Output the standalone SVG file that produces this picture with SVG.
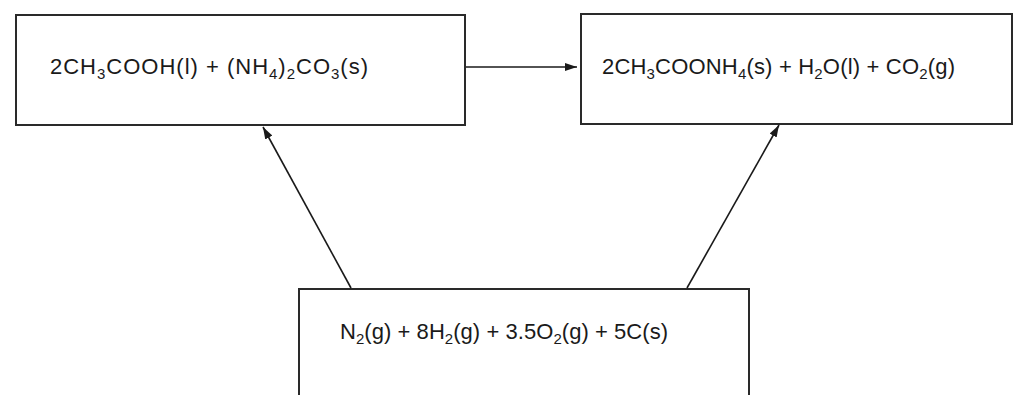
<svg xmlns="http://www.w3.org/2000/svg" width="1015" height="395" viewBox="0 0 1015 395">
<style>
.box{fill:#fff;stroke:#2a2a2a;stroke-width:2}
.t{font-family:"Liberation Sans",Arial,sans-serif;font-size:22px;fill:#1a1a1a}
.s{font-size:15px}
.c{stroke:#1a1a1a;stroke-width:1.6;fill:none}
</style>
<defs>
<marker id="ah" viewBox="0 0 12 8" refX="12" refY="4" markerWidth="12" markerHeight="8" markerUnits="userSpaceOnUse" orient="auto">
<path d="M0,0 L12,4 L0,8 Z" fill="#1a1a1a"/>
</marker>
</defs>
<rect width="1015" height="395" fill="#fff"/>
<g id="reactants">
<rect class="box" x="16" y="15" width="449" height="110"/>
<text class="t" x="50" y="74" textLength="318" lengthAdjust="spacing">2CH<tspan class="s" dy="5">3</tspan><tspan dy="-5">COOH(l) + (NH</tspan><tspan class="s" dy="5">4</tspan><tspan dy="-5">)</tspan><tspan class="s" dy="5">2</tspan><tspan dy="-5">CO</tspan><tspan class="s" dy="5">3</tspan><tspan dy="-5">(s)</tspan></text>
</g>
<g id="products">
<rect class="box" x="581" y="14" width="431" height="110"/>
<text class="t" x="602" y="74" textLength="353" lengthAdjust="spacing">2CH<tspan class="s" dy="5">3</tspan><tspan dy="-5">COONH</tspan><tspan class="s" dy="5">4</tspan><tspan dy="-5">(s) + H</tspan><tspan class="s" dy="5">2</tspan><tspan dy="-5">O(l) + CO</tspan><tspan class="s" dy="5">2</tspan><tspan dy="-5">(g)</tspan></text>
</g>
<g id="elements">
<rect class="box" x="299" y="289" width="450" height="120"/>
<text class="t" x="340" y="339" textLength="328" lengthAdjust="spacing">N<tspan class="s" dy="5">2</tspan><tspan dy="-5">(g) + 8H</tspan><tspan class="s" dy="5">2</tspan><tspan dy="-5">(g) + 3.5O</tspan><tspan class="s" dy="5">2</tspan><tspan dy="-5">(g) + 5C(s)</tspan></text>
</g>
<g id="connectors">
<line class="c" x1="466" y1="67" x2="577" y2="67" marker-end="url(#ah)"/>
<line class="c" x1="351" y1="288" x2="263" y2="127" marker-end="url(#ah)"/>
<line class="c" x1="687" y1="288" x2="779" y2="125" marker-end="url(#ah)"/>
</g>
</svg>
